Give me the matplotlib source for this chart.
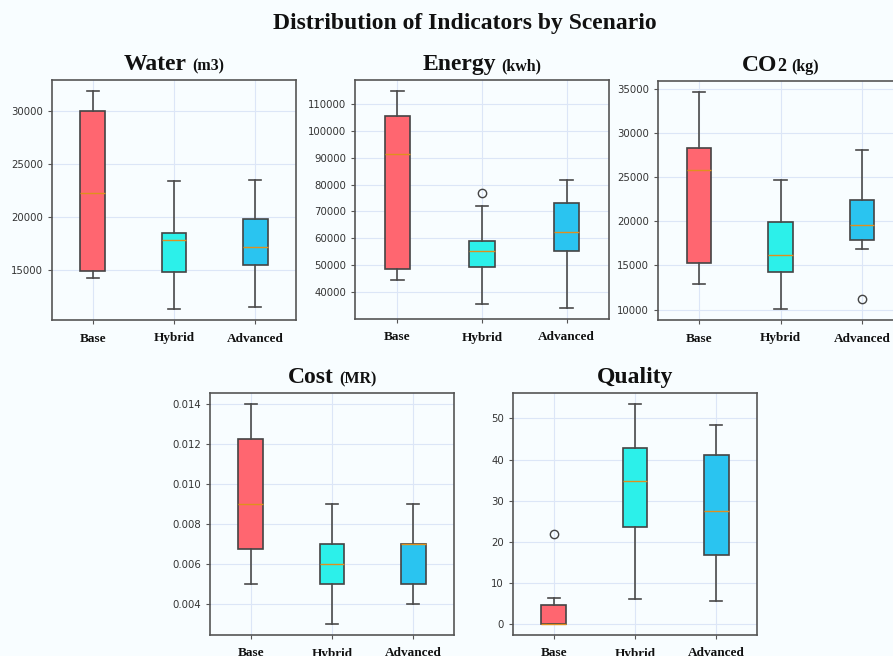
import matplotlib
matplotlib.use("Agg")
import matplotlib.pyplot as plt
from matplotlib.offsetbox import TextArea, HPacker, AnchoredOffsetbox

scenarios = ["Base", "Hybrid", "Advanced"]
colors = ["#FF6670", "#2CF0EA", "#2AC4F0"]

# stats per scenario: whisker low, Q1, median, Q3, whisker high, fliers
water_low = [14200, 11250, 11450]
water_q1 = [14850, 14750, 15400]
water_med = [22250, 17850, 17150]
water_q3 = [30050, 18500, 19750]
water_high = [31950, 23400, 23500]
water_fliers = [[], [], []]

energy_low = [44700, 35700, 34100]
energy_q1 = [48600, 49400, 55300]
energy_med = [91300, 55150, 62400]
energy_q3 = [105300, 59000, 73000]
energy_high = [114800, 72100, 81700]
energy_fliers = [[], [76700], []]

co2_low = [12850, 10050, 16900]
co2_q1 = [15250, 14300, 17900]
co2_med = [25850, 16200, 19550]
co2_q3 = [28350, 19950, 22350]
co2_high = [34650, 24650, 28100]
co2_fliers = [[], [], [11200]]

cost_low = [0.005, 0.003, 0.004]
cost_q1 = [0.00676, 0.005, 0.005]
cost_med = [0.009, 0.006, 0.007]
cost_q3 = [0.01225, 0.007, 0.007]
cost_high = [0.014, 0.009, 0.009]
cost_fliers = [[], [], []]
cost_ticks = [0.004, 0.006, 0.008, 0.010, 0.012, 0.014]

quality_low = [0.0, 6.2, 5.6]
quality_q1 = [0.0, 23.6, 16.7]
quality_med = [0.0, 34.7, 27.4]
quality_q3 = [4.5, 42.7, 41.2]
quality_high = [6.4, 53.5, 48.5]
quality_fliers = [[22.0], [], []]

BG = "#F8FDFF"
fig = plt.figure(figsize=(8.93, 6.56), dpi=100, facecolor=BG)
W, H = 893, 656

SERIF = "Liberation Serif"


def axes_px(left, top, right, bottom):
    return fig.add_axes([left / W, 1 - bottom / H, (right - left) / W, (bottom - top) / H])


def make_stats(low, q1, med, q3, high, fliers):
    out = []
    for i, lab in enumerate(scenarios):
        out.append(dict(label=lab, whislo=low[i], q1=q1[i], med=med[i],
                        q3=q3[i], whishi=high[i], fliers=fliers[i]))
    return out


def ta(s, size):
    return TextArea(s, textprops=dict(family=SERIF, weight="bold", size=size, color="#111111"))


def add_title(ax, main_parts, unit):
    head = HPacker(children=[ta(s, sz) for s, sz in main_parts], align="baseline", pad=0, sep=0)
    parts = [head]
    if unit:
        parts.append(ta(unit, 11.5))
    pack = HPacker(children=parts, align="baseline", pad=0, sep=4)
    box = AnchoredOffsetbox(loc="lower center", child=pack, pad=0, frameon=False,
                            bbox_to_anchor=(0.5, 1.02), bbox_transform=ax.transAxes,
                            borderpad=0)
    ax.add_artist(box)


def draw(ax, stats, main_parts, unit):
    ax.set_facecolor(BG)
    b = ax.bxp(stats, patch_artist=True, widths=0.3,
               boxprops=dict(edgecolor="#444444", linewidth=1.2),
               whiskerprops=dict(color="#4a4a4a", linewidth=1.2),
               capprops=dict(color="#4a4a4a", linewidth=1.2),
               medianprops=dict(color="#E0901E", linewidth=1.0),
               flierprops=dict(marker="o", markerfacecolor="none",
                               markeredgecolor="#444444", markersize=6,
                               markeredgewidth=1.0))
    for patch, c in zip(b["boxes"], colors):
        patch.set_facecolor(c)
    ax.grid(True, color="#DCE6F7", linewidth=0.8)
    ax.set_axisbelow(True)
    for s in ax.spines.values():
        s.set_color("#555555")
        s.set_linewidth(1.2)
    ax.tick_params(axis="y", labelsize=7.3, colors="#555555", labelcolor="#333333", length=3)
    ax.tick_params(axis="x", length=3, pad=6, colors="#555555", labelcolor="#111111")
    for t in ax.get_xticklabels():
        t.set_family(SERIF)
        t.set_weight("bold")
        t.set_size(9.5)
    add_title(ax, main_parts, unit)


ax1 = axes_px(52, 80, 296, 320)
draw(ax1, make_stats(water_low, water_q1, water_med, water_q3, water_high, water_fliers),
     [("Water", 17)], "(m3)")

ax2 = axes_px(355, 80, 609, 319)
draw(ax2, make_stats(energy_low, energy_q1, energy_med, energy_q3, energy_high, energy_fliers),
     [("Energy", 17)], "(kwh)")

ax3 = axes_px(658, 81, 903, 320)
draw(ax3, make_stats(co2_low, co2_q1, co2_med, co2_q3, co2_high, co2_fliers),
     [("CO", 17), ("2", 13)], "(kg)")

ax4 = axes_px(210, 393, 454, 635)
draw(ax4, make_stats(cost_low, cost_q1, cost_med, cost_q3, cost_high, cost_fliers),
     [("Cost", 17)], "(MR)")
ax4.set_yticks(cost_ticks)
ax4.set_yticklabels([f"{v:.3f}" for v in cost_ticks])

ax5 = axes_px(513, 393, 757, 635)
draw(ax5, make_stats(quality_low, quality_q1, quality_med, quality_q3, quality_high, quality_fliers),
     [("Quality", 17)], None)

fig.text(465 / W, 1 - 24 / H, "Distribution of Indicators by Scenario", ha="center", va="center",
         family=SERIF, weight="bold", size=17, color="#111111")

fig.savefig("out.png", dpi=100, facecolor=BG)
